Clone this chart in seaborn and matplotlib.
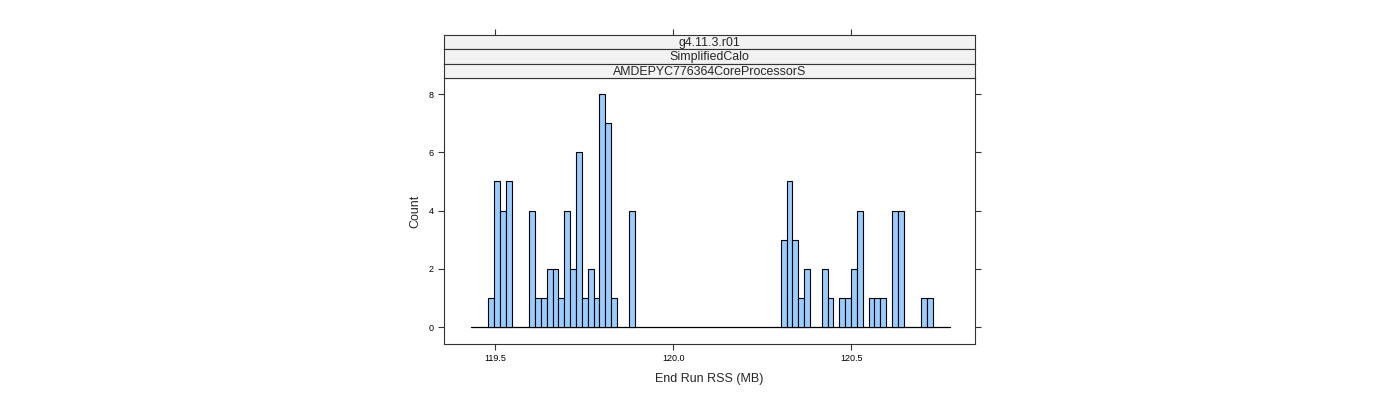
import numpy as np
import pandas as pd
import matplotlib
matplotlib.use("Agg")
import matplotlib.pyplot as plt
import seaborn as sns

# Style
sns.set_style("ticks")
plt.rcParams['font.family'] = ['Liberation Sans', 'DejaVu Sans']

# Data: histogram of End Run RSS (MB), 82 equal-width bins
bin_start = 119.4317
bin_end = 120.778
n_bins = 82
counts = [0, 0, 0, 1, 5, 4, 5, 0, 0, 0,
          4, 1, 1, 2, 2, 1, 4, 2, 6, 1,
          2, 1, 8, 7, 1, 0, 0, 4, 0, 0,
          0, 0, 0, 0, 0, 0, 0, 0, 0, 0,
          0, 0, 0, 0, 0, 0, 0, 0, 0, 0,
          0, 0, 0, 3, 5, 3, 1, 2, 0, 0,
          2, 1, 0, 1, 1, 2, 4, 0, 1, 1,
          1, 0, 4, 4, 0, 0, 0, 1, 1, 0,
          0, 0]
strip_labels = ["g4.11.3.r01", "SimplifiedCalo", "AMDEPYC776364CoreProcessorS"]
x_ticks = [119.5, 120.0, 120.5]
x_ticklabels = ["119.5", "120.0", "120.5"]
y_ticks = [0, 2, 4, 6, 8]

edges = np.linspace(bin_start, bin_end, n_bins + 1)
df = pd.DataFrame({'rss': (edges[:-1] + edges[1:]) / 2, 'count': counts})

xlim = (119.3566, 120.847)
ylim = (-0.58, 8.55)
frame_col = "#333333"

W, H = 1400, 400
fig = plt.figure(figsize=(14, 4), dpi=100)
ax = fig.add_axes([444 / W, (H - 344) / H, 531 / W, 266 / H])

# bins passed as a list (seaborn compares bins to "auto" when weights are used)
sns.histplot(data=df, x='rss', weights='count', bins=list(edges), ax=ax,
             color="#99CCFF", edgecolor="black", linewidth=0.8, alpha=1)

# empty bins: keep only the baseline, drawn as one clean line over the bin range
for p, c in zip(ax.patches, counts):
    if c == 0:
        p.set_visible(False)
ax.plot([edges[0], edges[-1]], [0, 0], color="black", lw=0.9, zorder=0.5)

ax.set_xlim(xlim)
ax.set_ylim(ylim)
ax.set_xticks(x_ticks)
ax.set_xticklabels(x_ticklabels)
ax.set_yticks(y_ticks)
ax.tick_params(axis='both', direction='out', length=4.5, width=0.8,
               colors=frame_col, labelsize=6.5, labelcolor='black', pad=3)
ax.tick_params(axis='y', right=True, labelright=False)
ax.set_xlabel("End Run RSS (MB)", fontsize=9, labelpad=7)
ax.set_ylabel("Count", fontsize=9, labelpad=5)
for s in ax.spines.values():
    s.set_color(frame_col)
    s.set_linewidth(0.8)

# Strips above the panel
strip_rows = [(35, 49), (49, 64), (64, 78)]
for i, (top, bottom) in enumerate(strip_rows):
    sax = fig.add_axes([444 / W, (H - bottom) / H, 531 / W, (bottom - top) / H])
    sax.set_facecolor("#F2F2F2")
    sax.set_xlim(xlim)
    sax.set_ylim(0, 1)
    sax.set_yticks([])
    if i == 0:
        sax.set_xticks(x_ticks)
        sax.tick_params(axis='x', bottom=False, top=True, labelbottom=False,
                        direction='out', length=4.5, width=0.8, colors=frame_col)
    else:
        sax.set_xticks([])
    for s in sax.spines.values():
        s.set_color(frame_col)
        s.set_linewidth(0.8)
    sax.text(0.5, 0.45, strip_labels[i], transform=sax.transAxes,
             ha='center', va='center', fontsize=8.9)

fig.savefig("out.png", dpi=100)
